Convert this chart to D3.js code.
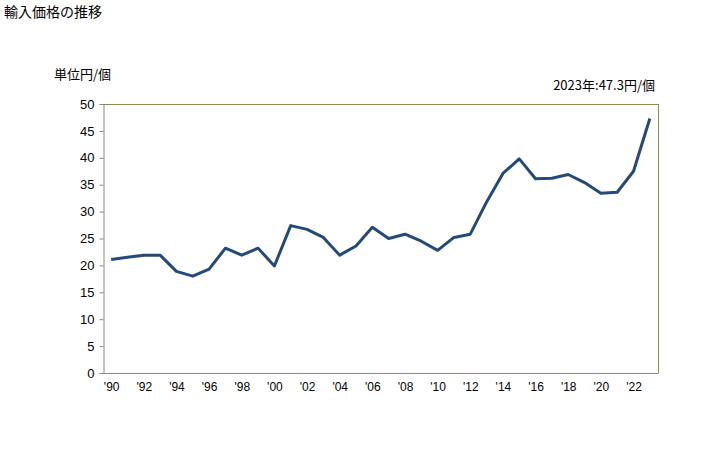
<!DOCTYPE html>
<html><head><meta charset="utf-8">
<script src="https://cdn.jsdelivr.net/npm/d3@7"></script>
<style>body{margin:0;background:#fff}svg{display:block;font-family:"Liberation Sans",Arial,sans-serif}</style>
</head><body><svg id="c" width="728" height="450"></svg>
<script>
const years = d3.range(1990, 2024);
const values = [21.1,21.5,21.9,21.9,18.9,18.0,19.3,23.2,21.9,23.2,19.9,27.4,26.7,25.2,21.9,23.6,27.1,25.0,25.8,24.5,22.8,25.2,25.8,31.8,37.1,39.8,36.1,36.2,36.9,35.4,33.4,33.6,37.5,47.3];
const yTicks = [0,5,10,15,20,25,30,35,40,45,50];
const xTickYears = years.filter(y => y % 2 === 0);

const svg = d3.select("#c");
const m = {l:103, r:658, t:104, b:373};
const x = d3.scalePoint().domain(years).range([m.l, m.r]).padding(0.5);
const y = d3.scaleLinear().domain([0,50]).range([m.b, m.t]);

const jp = '"Noto Sans CJK JP", sans-serif';
svg.append("text").attr("x",4).attr("y",17).attr("font-size",14).attr("font-family",jp).attr("fill","#000").text("輸入価格の推移");
svg.append("text").attr("x",54).attr("y",79).attr("font-size",13).attr("font-family",jp).attr("fill","#000").text("単位円/個");
svg.append("text").attr("x",655).attr("y",90).attr("text-anchor","end").attr("font-size",13).attr("font-family",jp).attr("fill","#000").text("2023年:47.3円/個");

// frame top/right
svg.append("line").attr("x1",m.l).attr("x2",m.r).attr("y1",m.t+0.5).attr("y2",m.t+0.5).attr("stroke","#8c8a52");
svg.append("line").attr("x1",m.r+0.5).attr("x2",m.r+0.5).attr("y1",m.t).attr("y2",m.b).attr("stroke","#8c8a52");

const ya = svg.append("g").attr("transform",`translate(${m.l+0.5},0)`)
  .call(d3.axisLeft(y).tickValues(yTicks).tickSize(4).tickPadding(5));
ya.select(".domain").attr("stroke","#888");
ya.selectAll(".tick line").attr("stroke","#888");
ya.selectAll("text").attr("font-size",13).attr("fill","#000").attr("font-family",'"Liberation Sans",Arial,sans-serif');

const xa = svg.append("g").attr("transform",`translate(0,${m.b+0.5})`)
  .call(d3.axisBottom(x).tickValues(xTickYears).tickSize(0).tickPadding(9).tickFormat(d => "'" + String(d).slice(2)));
xa.select(".domain").attr("stroke","#888").attr("d",`M${m.l},0H${m.r+0.5}`);
xa.selectAll("text").attr("font-size",12).attr("fill","#000").attr("font-family",'"Liberation Sans",Arial,sans-serif');

svg.append("path").datum(values)
  .attr("fill","none").attr("stroke","#264a78").attr("stroke-width",3).attr("stroke-linejoin","round")
  .attr("d", d3.line().x((d,i)=>x(years[i])).y(d=>y(d)));
</script></body></html>
